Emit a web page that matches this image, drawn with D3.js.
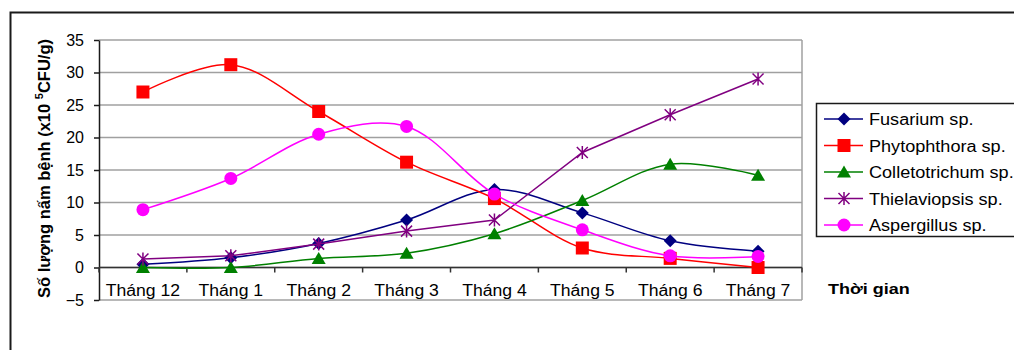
<!DOCTYPE html>
<html>
<head>
<meta charset="utf-8">
<script src="https://cdn.jsdelivr.net/npm/d3@7"></script>
<style>
  body { margin: 0; background: #fff; }
  svg { display: block; font-family: Arial, "Liberation Sans", sans-serif; }
</style>
</head>
<body>
<svg id="chart" width="1014" height="350"></svg>
<script>
// Categories (months) and fungus counts per month, x10^5 CFU/g
const months = ["Tháng 12", "Tháng 1", "Tháng 2", "Tháng 3", "Tháng 4", "Tháng 5", "Tháng 6", "Tháng 7"];
const seriesNames = ["Fusarium sp.", "Phytophthora sp.", "Colletotrichum sp.", "Thielaviopsis sp.", "Aspergillus sp."];
const fusarium       = [0.5, 1.5, 3.7, 7.3, 12.0, 8.4, 4.1, 2.5];
const phytophthora   = [27.0, 31.2, 24.0, 16.2, 10.6, 3.0, 1.4, 0.0];
const colletotrichum = [0.0, 0.0, 1.4, 2.2, 5.2, 10.3, 15.9, 14.2];
const thielaviopsis  = [1.3, 1.8, 3.6, 5.6, 7.3, 17.7, 23.5, 29.0];
const aspergillus    = [8.9, 13.7, 20.5, 21.7, 11.3, 5.8, 1.8, 1.7];
const yTicks = [-5, 0, 5, 10, 15, 20, 25, 30, 35];
const yTitle = ["Số lượng nấm bệnh (x10 ", "5", "CFU/g)"];
const xTitle = "Thời gian";

const seriesValues = [fusarium, phytophthora, colletotrichum, thielaviopsis, aspergillus];
const colors = ["#000080", "#ff0000", "#008000", "#800080", "#ff00ff"];
const markerKinds = ["diamond", "square", "triangle", "star", "circle"];
const smoothed = [true, true, true, false, true];

const svg = d3.select("#chart");

// Stretch text horizontally to the width used by the chart's type rendering
function widen(sel, factor) {
  sel.each(function () {
    const w = this.getComputedTextLength();
    d3.select(this).attr("textLength", w * factor).attr("lengthAdjust", "spacingAndGlyphs");
  });
}

// Outer frame
svg.append("path")
  .attr("d", "M10.5,1000 L10.5,12.5 L1100,12.5")
  .attr("fill", "none").attr("stroke", "#1a1a1a").attr("stroke-width", 2);

const plot = { left: 99, right: 802, top: 40, bottom: 300 };
const x = d3.scaleBand().domain(months).range([plot.left, plot.right]);
const y = d3.scaleLinear().domain([-5, 35]).range([plot.bottom, plot.top]);
const cx = d => x(d) + x.bandwidth() / 2;

// Horizontal gridlines
svg.append("g").selectAll("line").data(yTicks).join("line")
  .attr("x1", plot.left).attr("x2", plot.right)
  .attr("y1", d => y(d)).attr("y2", d => y(d))
  .attr("stroke", "#a0a0a0").attr("stroke-width", 1.5);
// Right border of the plot area
svg.append("line")
  .attr("x1", plot.right).attr("x2", plot.right)
  .attr("y1", plot.top).attr("y2", plot.bottom)
  .attr("stroke", "#a0a0a0").attr("stroke-width", 1.5);

// Y axis
const yAxis = svg.append("g")
  .attr("transform", `translate(${plot.left},0)`)
  .call(d3.axisLeft(y).tickValues(yTicks).tickSize(5).tickPadding(10).tickSizeOuter(0));
yAxis.select(".domain").attr("stroke", "#1a1a1a").attr("stroke-width", 1.5);
yAxis.selectAll(".tick line").attr("stroke", "#1a1a1a").attr("stroke-width", 1.5);
yAxis.selectAll(".tick text")
  .attr("font-size", 16).attr("font-family", "Arial, 'Liberation Sans', sans-serif")
  .attr("fill", "#000");

// X axis at zero, with tick marks on category boundaries
const y0 = y(0);
svg.append("line")
  .attr("x1", plot.left).attr("x2", plot.right)
  .attr("y1", y0).attr("y2", y0)
  .attr("stroke", "#333").attr("stroke-width", 1.5);
svg.append("g").selectAll("line").data(d3.range(months.length + 1)).join("line")
  .attr("x1", i => plot.left + i * x.step()).attr("x2", i => plot.left + i * x.step())
  .attr("y1", y0).attr("y2", y0 + 5)
  .attr("stroke", "#333").attr("stroke-width", 1.5);
svg.append("g").selectAll("text").data(months).join("text")
  .attr("x", d => cx(d)).attr("y", 296)
  .attr("text-anchor", "middle").attr("font-size", 16).attr("fill", "#000")
  .text(d => d)
  .call(widen, 1.1);

// Y axis title
const yt = svg.append("text")
  .attr("transform", "translate(50,168.5) rotate(-90)")
  .attr("text-anchor", "middle").attr("font-size", 16.5).attr("font-weight", "bold").attr("fill", "#000");
yt.append("tspan").text(yTitle[0]);
yt.append("tspan").attr("dy", -7).attr("font-size", 11).text(yTitle[1]);
yt.append("tspan").attr("dy", 7).text(yTitle[2]);

// X axis title
svg.append("text")
  .attr("x", 828).attr("y", 294)
  .attr("font-size", 15).attr("font-weight", "bold").attr("fill", "#000")
  .text(xTitle)
  .call(widen, 1.2);

// Marker shapes
function markerPath(kind) {
  switch (kind) {
    case "diamond": return "M0,-6.5L6.5,0L0,6.5L-6.5,0Z";
    case "square": return "M-6.5,-6.5H6.5V6.5H-6.5Z";
    case "triangle": return "M0,-6.5L7,5.5L-7,5.5Z";
    case "star": return "M-5.5,-5.5L5.5,5.5M-5.5,5.5L5.5,-5.5M0,-6.5V6.5";
    case "circle": return d3.symbol(d3.symbolCircle, Math.PI * 6.5 * 6.5)();
  }
}
function drawMarker(g, kind, color) {
  const p = g.append("path").attr("d", markerPath(kind));
  if (kind === "star") p.attr("fill", "none").attr("stroke", color).attr("stroke-width", 1.5);
  else p.attr("fill", color);
}

// Series lines (smoothed or straight) and markers
const lineFor = smooth => d3.line()
  .x((d, i) => cx(months[i]))
  .y(d => y(d))
  .curve(smooth ? d3.curveCatmullRom.alpha(0.5) : d3.curveLinear);

seriesValues.forEach((vals, s) => {
  const g = svg.append("g");
  g.append("path").datum(vals)
    .attr("d", lineFor(smoothed[s]))
    .attr("fill", "none").attr("stroke", colors[s]).attr("stroke-width", 1.5);
  vals.forEach((v, i) => {
    const m = g.append("g").attr("transform", `translate(${cx(months[i])},${y(v)})`);
    drawMarker(m, markerKinds[s], colors[s]);
  });
});

// Legend
const legend = svg.append("g");
legend.append("rect")
  .attr("x", 816.5).attr("y", 103.5).attr("width", 300).attr("height", 133)
  .attr("fill", "#fff").attr("stroke", "#1a1a1a").attr("stroke-width", 1.5);
seriesNames.forEach((name, s) => {
  const ly = 119 + s * 26.5;
  const row = legend.append("g");
  row.append("line").attr("x1", 824).attr("x2", 863).attr("y1", ly).attr("y2", ly)
    .attr("stroke", colors[s]).attr("stroke-width", 1.5);
  drawMarker(row.append("g").attr("transform", `translate(844,${ly})`), markerKinds[s], colors[s]);
  row.append("text").attr("x", 869).attr("y", ly + 6)
    .attr("font-size", 16).attr("fill", "#000").text(name)
    .call(widen, 1.13);
});
</script>
</body>
</html>
